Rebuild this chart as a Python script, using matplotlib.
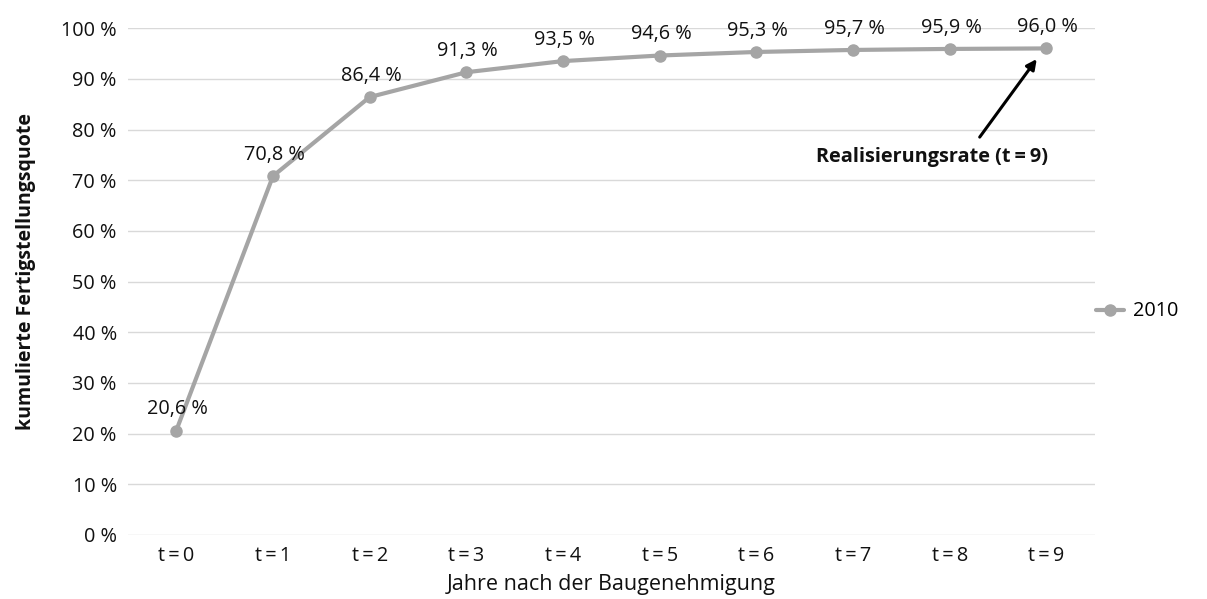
import matplotlib
matplotlib.use("Agg")
import matplotlib.pyplot as plt

plt.rcParams['font.family'] = ['Open Sans', 'DejaVu Sans']

# Kumulierte Fertigstellungsquote der Baugenehmigungen des Jahrgangs 2010
categories = ["t\u2009=\u20090", "t\u2009=\u20091", "t\u2009=\u20092", "t\u2009=\u20093", "t\u2009=\u20094",
              "t\u2009=\u20095", "t\u2009=\u20096", "t\u2009=\u20097", "t\u2009=\u20098", "t\u2009=\u20099"]
values_2010 = [20.6, 70.8, 86.4, 91.3, 93.5, 94.6, 95.3, 95.7, 95.9, 96.0]
y_ticks = [0, 10, 20, 30, 40, 50, 60, 70, 80, 90, 100]
series_name = "2010"

line_color = "#a5a5a5"
grid_color = "#d9d9d9"
text_color = "#111111"
fs = 14.3

fig = plt.figure(figsize=(12.07, 5.99), dpi=100)
ax = fig.add_axes([0.106, 0.107, 0.801, 0.846])

x = list(range(len(categories)))
ax.plot(x, values_2010, color=line_color, lw=3, marker="o", ms=8,
        solid_capstyle="round", label=series_name, zorder=3)

for xi, v in zip(x, values_2010):
    ax.annotate(f"{v:.1f} %".replace(".", ","), (xi, v), xytext=(1, 8),
                textcoords="offset points", ha="center", va="bottom",
                fontsize=fs, color=text_color)

ax.set_xlim(-0.5, len(categories) - 0.5)
ax.set_ylim(0, 100)
ax.set_yticks(y_ticks)
ax.set_yticklabels([f"{t} %" for t in y_ticks], fontsize=fs, color=text_color)
ax.set_xticks(x)
ax.set_xticklabels(categories, fontsize=fs, color=text_color)
ax.tick_params(length=0, pad=8)
ax.yaxis.grid(True, color=grid_color, lw=1)
ax.set_axisbelow(True)
for s in ax.spines.values():
    s.set_visible(False)

ax.set_xlabel("Jahre nach der Baugenehmigung", fontsize=15.5, color=text_color, labelpad=6)
ax.set_ylabel("kumulierte Fertigstellungsquote", fontsize=14, fontweight="bold",
              color=text_color)
ax.yaxis.set_label_coords(-0.0955, 0.52)

# Hinweis auf die Realisierungsrate am Ende des Beobachtungszeitraums
ax.annotate("", xy=(8.90, 93.9), xytext=(8.31, 78.5), textcoords="data",
            arrowprops=dict(arrowstyle="-|>", color="black", lw=2.2,
                            mutation_scale=15, shrinkA=0, shrinkB=0))
ax.text(7.82, 74.5, "Realisierungsrate (t\u2009=\u20099)", ha="center", va="center",
        fontsize=fs, fontweight="bold", color=text_color)

fig.legend(loc="center left", bbox_to_anchor=(0.893, 0.48), frameon=False,
           fontsize=fs, handlelength=1.4, handletextpad=0.5)

fig.savefig("out.png", dpi=100)
